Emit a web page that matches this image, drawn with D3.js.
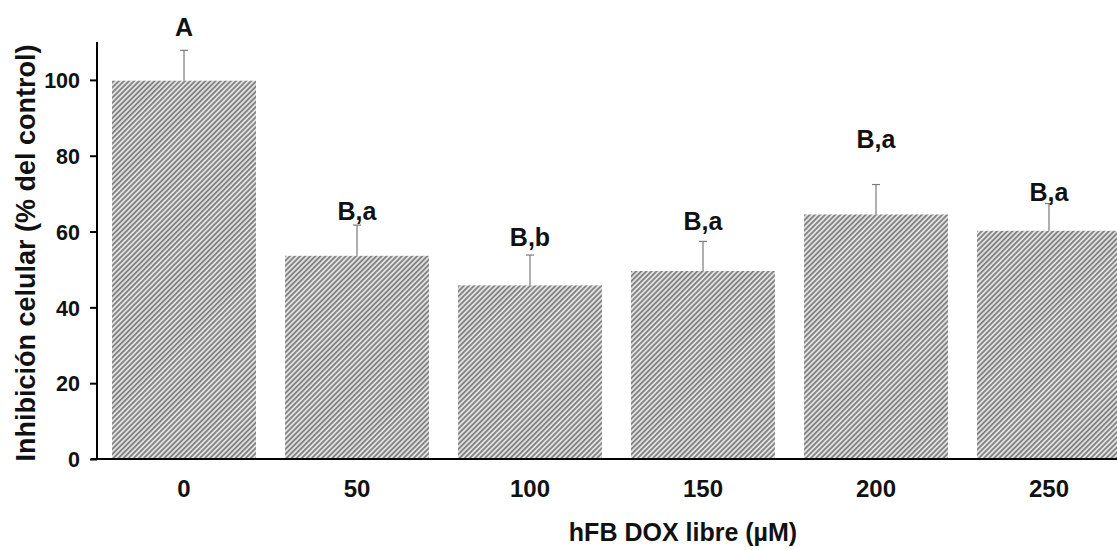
<!DOCTYPE html>
<html><head><meta charset="utf-8">
<script src="https://cdn.jsdelivr.net/npm/d3@7"></script>
<style>
html,body{margin:0;padding:0;background:#fff;}
svg{display:block;font-family:Arial,"Liberation Sans",sans-serif;}
</style></head>
<body>
<svg id="chart" width="1117" height="550"></svg>
<script>
const categories = ["0","50","100","150","200","250"];
const values = [99.8, 53.6, 45.8, 49.6, 64.5, 60.2];
const errors = [8.0, 8.1, 8.0, 7.8, 7.9, 7.2];
const letters = ["A","B,a","B,b","B,a","B,a","B,a"];
const letterLevels = [111.6, 63.0, 56.2, 60.4, 82.0, 68.0];
const yTicks = [0,20,40,60,80,100];

const svg = d3.select("#chart");
const x0 = 97, y0 = 459, yTop = 42;
const FONT = "Arial,'Liberation Sans',sans-serif";

const defs = svg.append("defs");
const pat = defs.append("pattern").attr("id","hatch")
  .attr("patternUnits","userSpaceOnUse").attr("width",3.6).attr("height",3.6)
  .attr("patternTransform","rotate(45)");
pat.append("rect").attr("width",3.6).attr("height",3.6).attr("fill","#e0e0e0");
pat.append("line").attr("x1",0.9).attr("y1",0).attr("x2",0.9).attr("y2",3.6)
  .attr("stroke","#707070").attr("stroke-width",1.5);

const x = d3.scaleBand().domain(categories).range([x0, 1136])
  .paddingInner(0.168).paddingOuter(0.087);
const y = d3.scaleLinear().domain([0,110]).range([y0, yTop]);

// bars
svg.append("g").selectAll("rect").data(values).join("rect")
  .attr("x",(d,i)=>x(categories[i]))
  .attr("y",d=>y(d))
  .attr("width",x.bandwidth())
  .attr("height",d=>y(0)-y(d))
  .attr("fill","url(#hatch)");

// error bars (upper only)
const eg = svg.append("g").attr("stroke","#7a7a7a").attr("stroke-width",1.2);
values.forEach((v,i)=>{
  const cx = x(categories[i]) + x.bandwidth()/2;
  eg.append("line").attr("x1",cx).attr("x2",cx).attr("y1",y(v)).attr("y2",y(v+errors[i]));
  eg.append("line").attr("x1",cx-4).attr("x2",cx+4).attr("y1",y(v+errors[i])).attr("y2",y(v+errors[i]));
});

// letters
svg.append("g").selectAll("text").data(letters).join("text")
  .attr("x",(d,i)=>x(categories[i]) + x.bandwidth()/2)
  .attr("y",(d,i)=>y(letterLevels[i]))
  .attr("text-anchor","middle").attr("font-weight","bold").attr("font-size",25)
  .attr("fill","#111").text(d=>d);

// y axis
const yAxis = d3.axisLeft(y).tickValues(yTicks).tickSize(7).tickSizeOuter(0);
const gy = svg.append("g").attr("transform",`translate(${x0},0)`).call(yAxis);
gy.select(".domain").attr("stroke","#000").attr("stroke-width",2)
  .attr("d",`M0,${yTop}V${y0+1}`);
gy.selectAll(".tick line").attr("stroke","#000").attr("stroke-width",2);
gy.selectAll(".tick text").attr("font-size",21.5).attr("font-weight","bold")
  .attr("fill","#111").attr("x",-17).attr("dy","0.36em")
  .style("font-family",FONT);

// x axis
const xAxis = d3.axisBottom(x).tickSize(0).tickSizeOuter(0);
const gx = svg.append("g").attr("transform",`translate(0,${y0})`).call(xAxis);
gx.select(".domain").attr("stroke","#000").attr("stroke-width",2)
  .attr("d",`M${x0-6},0H1117`);
gx.selectAll(".tick text").attr("font-size",24).attr("font-weight","bold")
  .attr("fill","#111").attr("y",38).attr("dy","0")
  .style("font-family",FONT);

// titles
svg.append("text").attr("x",683).attr("y",541).attr("text-anchor","middle")
  .attr("font-size",25).attr("font-weight","bold").attr("fill","#111")
  .text("hFB DOX libre (µM)");
svg.append("text").attr("transform","translate(35,253) rotate(-90)")
  .attr("text-anchor","middle").attr("font-size",27).attr("font-weight","bold")
  .attr("fill","#111").text("Inhibición celular (% del control)");
</script>
</body></html>
